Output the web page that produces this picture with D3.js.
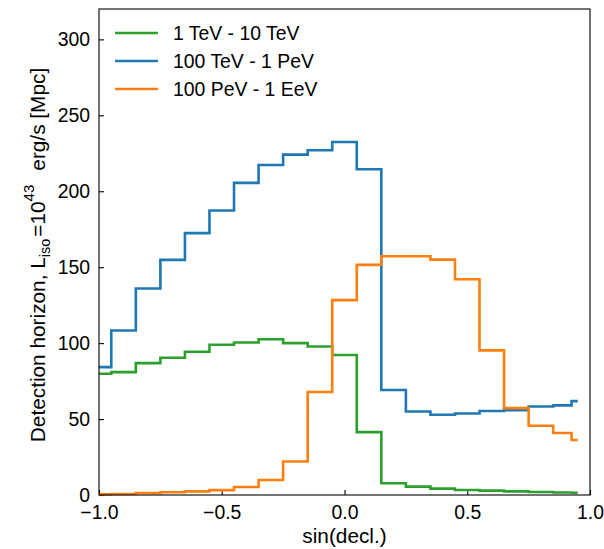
<!DOCTYPE html>
<html>
<head>
<meta charset="utf-8">
<script src="https://cdn.jsdelivr.net/npm/d3@7"></script>
<style>
  body { margin: 0; background: #fff; }
  svg text { font-family: "Liberation Sans", Arial, sans-serif; fill: #000; }
</style>
</head>
<body>
<div id="chart"></div>
<script>
// bin centres in sin(decl.)
const sinDecl = [-1.0, -0.9, -0.8, -0.7, -0.6, -0.5, -0.4, -0.3, -0.2, -0.1,
                 0.0, 0.1, 0.2, 0.3, 0.4, 0.5, 0.6, 0.7, 0.8, 0.9, 0.95];

// detection horizon [Mpc] per energy band
const tevLow  = [79.8, 80.9, 86.8, 90.4, 94.3, 98.9, 100.4, 102.6, 100.0, 97.8,
                 92.2, 41.4, 7.7, 5.5, 4.2, 3.3, 2.9, 2.4, 2.0, 1.6, 1.5];
const tevHigh = [84.2, 108.3, 136.0, 154.8, 172.4, 187.3, 205.5, 217.3, 224.1, 227.0,
                 232.4, 214.5, 69.1, 55.0, 52.8, 53.7, 55.3, 55.9, 58.3, 59.0, 61.8];
const pevBand = [0.4, 0.7, 1.3, 1.8, 2.4, 3.2, 5.3, 9.9, 22.1, 67.8,
                 128.3, 151.5, 157.2, 157.2, 155.0, 142.1, 95.2, 57.2, 45.6, 40.8, 36.2];

const seriesNames = ["1 TeV - 10 TeV", "100 TeV - 1 PeV", "100 PeV - 1 EeV"];
const seriesColors = ["#2ca02c", "#1f77b4", "#ff7f0e"];
const xTicks = [-1.0, -0.5, 0.0, 0.5, 1.0];
const yTicks = [0, 50, 100, 150, 200, 250, 300];

const W = 604, H = 549;
const margin = {top: 9, right: 14, bottom: 54, left: 99};
const width = W - margin.left - margin.right,
      height = H - margin.top - margin.bottom;
const fs = 19.4;       // tick + legend text
const labelFs = 20.8;  // axis labels

const svg = d3.select("#chart").append("svg")
  .attr("width", W).attr("height", H);
const g = svg.append("g")
  .attr("transform", `translate(${margin.left},${margin.top})`);

const x = d3.scaleLinear().domain([-1, 1]).range([0, width]);
const y = d3.scaleLinear().domain([0, 320]).range([height, 0]);

const fmt = d => d3.format(".1f")(d).replace("-", "\u2212");

// axes with inward ticks
const xAxis = g.append("g")
  .attr("transform", `translate(0,${height})`)
  .call(d3.axisBottom(x).tickValues(xTicks).tickFormat(fmt).tickSizeInner(-5).tickSizeOuter(0).tickPadding(10));
const yAxis = g.append("g")
  .call(d3.axisLeft(y).tickValues(yTicks).tickSizeInner(-5).tickSizeOuter(0).tickPadding(9));
[xAxis, yAxis].forEach(a => {
  a.select(".domain").remove();
  a.selectAll(".tick line").attr("stroke", "#000").attr("stroke-width", 1.1);
  a.selectAll(".tick text").style("font-size", fs + "px");
});

// lines
const allSeries = [tevLow, tevHigh, pevBand];
const line = d3.line()
  .x((d, i) => x(sinDecl[i]))
  .y(d => y(d))
  .curve(d3.curveStep);

allSeries.forEach((s, k) => {
  g.append("path")
    .datum(s)
    .attr("fill", "none")
    .attr("stroke", seriesColors[k])
    .attr("stroke-width", 2.6)
    .attr("d", line);
});

// frame
g.append("rect")
  .attr("width", width).attr("height", height)
  .attr("fill", "none").attr("stroke", "#000").attr("stroke-width", 1.1);

// legend
const legend = g.append("g").attr("transform", "translate(16,24)");
seriesNames.forEach((name, k) => {
  const row = legend.append("g").attr("transform", `translate(0,${k * 28})`);
  row.append("line")
    .attr("x1", 0).attr("x2", 43)
    .attr("stroke", seriesColors[k]).attr("stroke-width", 2.6);
  row.append("text")
    .attr("x", 58).attr("dy", "0.35em")
    .style("font-size", fs + "px")
    .text(name);
});

// axis labels
svg.append("text")
  .attr("x", margin.left + width / 2).attr("y", 543)
  .attr("text-anchor", "middle")
  .style("font-size", labelFs + "px")
  .text("sin(decl.)");

const yl = svg.append("text")
  .attr("transform", `translate(45,${margin.top + height / 2 + 3}) rotate(-90)`)
  .attr("text-anchor", "middle")
  .style("font-size", labelFs + "px");
yl.append("tspan").text("Detection horizon, L");
yl.append("tspan").attr("dy", 5).style("font-size", "14.5px").text("iso");
yl.append("tspan").attr("dy", -5).attr("dx", 2).text("=10");
yl.append("tspan").attr("dy", -11).style("font-size", "15px").text("43");
yl.append("tspan").attr("dy", 11).attr("dx", 14).text("erg/s [Mpc]");
</script>
</body>
</html>
